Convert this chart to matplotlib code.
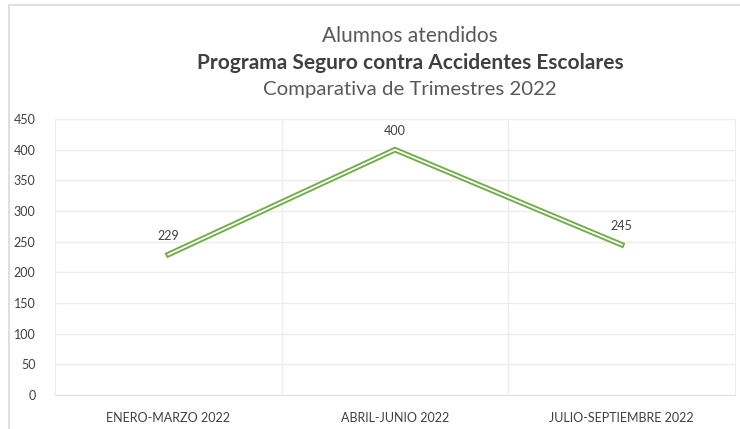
import matplotlib.pyplot as plt
from matplotlib.patches import Rectangle

categorias = ['ENERO-MARZO 2022', 'ABRIL-JUNIO 2022', 'JULIO-SEPTIEMBRE 2022']
alumnos = [229, 400, 245]
yticks = [0, 50, 100, 150, 200, 250, 300, 350, 400, 450]

gris = '#595959'
verde = '#70AD47'
plt.rcParams['font.family'] = ['Lato', 'DejaVu Sans']

fig = plt.figure(figsize=(7.4, 4.29), dpi=100)
ax = fig.add_axes([55 / 740, 34 / 429, 680 / 740, 276 / 429])

x = list(range(len(categorias)))
ax.plot(x, alumnos, color=verde, lw=4.0, solid_joinstyle='miter', zorder=3)
ax.plot(x, alumnos, color='white', lw=1.3, solid_joinstyle='miter', zorder=4)
for xi, v in zip(x, alumnos):
    ax.annotate(str(v), (xi, v), xytext=(0, 9), textcoords='offset points',
                ha='center', va='bottom', fontsize=9, color='#404040')

ax.set_xlim(-0.5, 2.5)
ax.set_ylim(0, 450)
ax.set_yticks(yticks)
ax.set_xticks(x)
ax.set_xticklabels(categorias)
ax.tick_params(axis='both', length=0, labelsize=9, colors=gris)
ax.tick_params(axis='x', pad=12)
ax.tick_params(axis='y', pad=14)
for lab in ax.get_yticklabels():
    lab.set_color('#404040')
for lab in ax.get_xticklabels():
    lab.set_color('#404040')
    lab.set_fontsize(9)

ax.set_xticks([0.5, 1.5], minor=True)
ax.tick_params(axis='x', which='minor', length=0)
ax.grid(axis='y', color='#EDEDED', lw=1)
ax.grid(axis='x', which='minor', color='#EDEDED', lw=1)
for s in ax.spines.values():
    s.set_color('#EDEDED')
ax.spines['bottom'].set_color('#E3E3E3')

cx = 410 / 740
fig.text(cx, 1 - 36 / 429, 'Alumnos atendidos', ha='center', va='center',
         fontsize=15, color=gris)
fig.text(cx, 1 - 63 / 429, 'Programa Seguro contra Accidentes Escolares',
         ha='center', va='center', fontsize=15, fontweight='bold', color='#404040')
fig.text(cx, 1 - 90 / 429, 'Comparativa de Trimestres 2022', ha='center',
         va='center', fontsize=14.7, color=gris)

fig.patches.append(Rectangle((9 / 740, -0.1), 1.1, 1 - 5 / 429 + 0.1,
                             transform=fig.transFigure, fill=False,
                             edgecolor='#D9D9D9', lw=1.2))

fig.savefig('out.png', dpi=100)
